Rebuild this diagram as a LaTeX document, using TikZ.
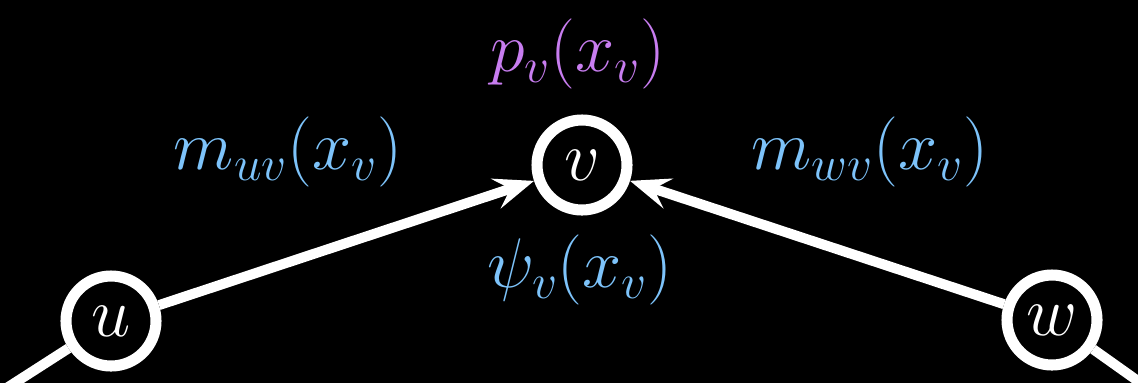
\RequirePackage{fix-cm}
\documentclass[tikz,border=0pt]{standalone}
\usepackage{amsmath}
\usepackage{xcolor}
\usetikzlibrary{arrows.meta}

\definecolor{msgblue}{RGB}{125,195,250}
\definecolor{margpurple}{RGB}{200,125,240}

\tikzset{
    varnode/.style={draw=white, line width=6.3pt, circle, minimum size=1.8cm, inner sep=0pt, text=white},
    msgedge/.style={draw=white, line width=5.7pt, -{Stealth[length=0.8cm, width=0.62cm, inset=0.3cm]}},
    plainedge/.style={draw=white, line width=5.7pt}
}

\begin{document}
\begin{tikzpicture}[x=0.02cm, y=-0.02cm, every node/.style={font=\fontsize{40}{46}\selectfont}]

        % Background
        \fill[black] (0,0) rectangle (1138,383);
        \useasboundingbox (0,0) rectangle (1138,383);

        % Variable nodes
        \node[varnode] (u) at (111,321) {$u$};
        \node[varnode] (v) at (582,165) {$v$};
        \node[varnode] (w) at (1052,320) {$w$};

        % Off-picture neighbours
        \coordinate (uout) at (-40,418);
        \coordinate (wout) at (1190,418);

        % Edges
        \draw[plainedge] (uout) -- (u);
        \draw[plainedge] (wout) -- (w);
        \draw[msgedge] (u) -- (v);
        \draw[msgedge] (w) -- (v);

        % Messages and potentials
        \node[text=margpurple] (pv) at (578,54) {$p_v(x_v)$};
        \node[text=msgblue] (muv) at (288,152) {$m_{uv}(x_v)$};
        \node[text=msgblue] (mwv) at (870,152) {$m_{wv}(x_v)$};
        \node[text=msgblue] (psiv) at (580,270) {$\psi_v(x_v)$};

    \end{tikzpicture}
\end{document}
